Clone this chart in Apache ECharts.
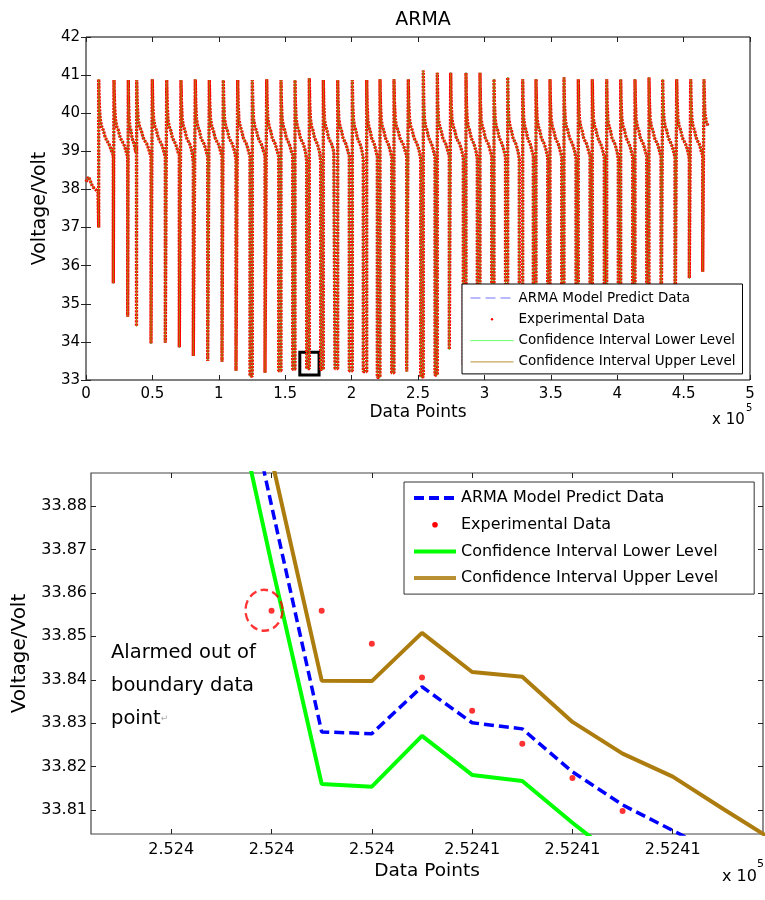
<!DOCTYPE html>
<html><head><meta charset="utf-8">
<script src="https://cdn.jsdelivr.net/npm/echarts@6/dist/echarts.min.js"></script>
<style>html,body{margin:0;padding:0;background:#fff}#c{width:765px;height:900px}</style>
</head><body><div id="c"></div>
<script>
// ================= DATA =================
// Top panel: x in units of 1e5 data points, y in Volt
const startX = [0, 0.02, 0.05, 0.09];
const startV = [38.2, 38.33, 38.07, 37.94];

// x where each discharge drop happens
const cycleDropX = [0.0956,0.2056,0.3140,0.3803,0.4895,0.5971,0.7026,0.8080,0.9164,1.0241,
  1.1295,1.2349,1.3479,1.4511,1.5565,1.6619,1.7673,1.8750,1.9827,2.0881,
  2.1935,2.3020,2.4149,2.5203,2.6280,2.7357,2.8411,2.9465,3.0550,3.1589,
  3.2628,3.3682,3.4767,3.5821,3.6898,3.7952,3.9029,4.0083,4.1167,4.2221,
  4.3298,4.4352,4.5429,4.6438];
// x where each charge spike reaches its peak
const cyclePeakX = [0.0956,0.2108,0.3185,0.3818,0.4992,0.6077,0.7154,0.8230,0.9285,1.0339,
  1.1423,1.2523,1.3607,1.4684,1.5738,1.6815,1.7869,1.8953,2.0053,2.1137,
  2.2139,2.3193,2.4270,2.5399,2.6453,2.7462,2.8614,2.9669,3.0723,3.1755,
  3.2884,3.3886,3.4940,3.5994,3.7071,3.8125,3.9209,4.0263,4.1340,4.2395,
  4.3426,4.4480,4.5535,4.6536];
// voltage just before each drop
const cyclePreDropV = [37.94,38.90,38.86,39.10,38.86,38.86,38.90,38.69,38.86,38.86,
  38.78,38.86,38.90,38.86,38.90,38.73,38.73,38.95,38.86,38.80,
  38.86,38.85,38.90,38.80,38.85,38.90,38.85,38.80,38.90,38.85,
  38.80,38.90,38.85,38.85,38.80,38.90,38.85,38.80,38.85,38.90,
  38.85,38.85,38.80,38.90];
// minimum voltage of each discharge
const cycleMinV = [37.00,35.54,34.66,34.41,33.96,33.98,33.86,33.63,33.50,33.48,
  33.24,33.10,33.19,33.24,33.28,33.30,33.28,33.30,33.24,33.22,
  33.07,33.19,33.22,33.08,33.13,33.80,33.40,33.30,33.35,33.30,
  33.30,33.35,33.30,33.25,33.30,33.30,33.35,33.30,33.30,33.30,
  33.35,33.50,35.67,35.84];
// peak voltage of each charge spike
const cyclePeakV = [40.89,40.87,40.87,40.87,40.89,40.87,40.87,40.89,40.87,40.87,
  40.87,40.87,40.89,40.87,40.87,40.92,40.87,40.87,40.87,40.87,
  40.89,40.89,40.89,41.12,41.06,41.06,41.06,41.06,40.89,40.94,
  40.89,40.89,40.89,40.94,40.89,40.89,40.89,40.89,40.89,40.94,
  40.89,40.89,40.89,40.89];
// typical relaxation after a peak (fraction of the way to next drop, voltage)
const decayFrac = [0.04, 0.10, 0.20, 0.32, 0.45, 0.58, 0.70, 0.80, 0.90];
const decayV    = [40.25, 39.85, 39.65, 39.55, 39.36, 39.27, 39.20, 39.10, 38.98];
// end of the record after the last peak
const tailX = [4.660, 4.672, 4.684];
const tailV = [40.00, 39.75, 39.68];
// black box that marks the zoomed region
const zoomBoxCorners = [[1.61, 33.73], [1.755, 33.13]];

// Bottom panel: data point index
const zoomIndex   = [252401, 252402, 252403, 252404, 252405, 252406, 252407, 252408, 252409, 252410, 252411, 252412];
const predictV    = [33.9331, 33.8801, 33.8280, 33.8276, 33.8384, 33.8301, 33.8287, 33.8188, 33.8112, 33.8053, 33.7995, 33.7940];
const lowerV      = [33.9193, 33.8667, 33.8160, 33.8154, 33.8271, 33.8181, 33.8167, 33.8071, 33.7980, 33.7900, 33.7850, 33.7800];
const upperV      = [33.9450, 33.8909, 33.8398, 33.8397, 33.8508, 33.8418, 33.8407, 33.8303, 33.8230, 33.8177, 33.8103, 33.8031];
const expIndex    = [252402, 252403, 252404, 252405, 252406, 252407, 252408, 252409];
const expV        = [33.8559, 33.8559, 33.8483, 33.8405, 33.8329, 33.8253, 33.8174, 33.8098];
const alarmPoint  = [[252401.85, 33.8560]];

// Axis ticks
const topXTicks = {min: 0, max: 5, interval: 0.5};
const topYTicks = {min: 33, max: 42, interval: 1};
const botXRange = [252398.4, 252411.8];
const botXTicks = [252400, 252402, 252404, 252406, 252408, 252410];
const botYRange = [33.8045, 33.8876];
const botYTicks = [33.81, 33.82, 33.83, 33.84, 33.85, 33.86, 33.87, 33.88];

const names = ['ARMA Model Predict Data', 'Experimental Data', 'Confidence Interval Lower Level', 'Confidence Interval Upper Level'];

// ================= build =================
function buildTop() {
  const pts = [];
  for (let k = 0; k < startX.length; k++) pts.push([startX[k], startV[k]]);
  const n = cycleDropX.length;
  for (let i = 0; i < n; i++) {
    pts.push([cycleDropX[i], cyclePreDropV[i]]);
    pts.push([cycleDropX[i], cycleMinV[i]]);
    pts.push([cyclePeakX[i], cycleMinV[i]]);
    pts.push([cyclePeakX[i], cyclePeakV[i]]);
    if (i < n - 1) {
      const span = cycleDropX[i + 1] - cyclePeakX[i];
      for (let k = 0; k < decayFrac.length; k++) pts.push([cyclePeakX[i] + decayFrac[k] * span, decayV[k]]);
    }
  }
  for (let k = 0; k < tailX.length; k++) pts.push([tailX[k], tailV[k]]);
  return pts;
}
const topPts = buildTop();
const zip = (xs, ys) => xs.map((x, i) => [x, ys[i]]);

const FONT = 'DejaVu Sans';
const BLUE = '#0000ff', GREEN = '#00ff00', BROWN = '#ad7c0e', RED = '#ff0000';

const dotTop = 'path://M0,0M43,12M20.3,6A1.2,1.2,0,1,0,22.7,6A1.2,1.2,0,1,0,20.3,6Z';
const dotBot = 'path://M0,0M42,14M18.2,7A2.8,2.8,0,1,0,23.8,7A2.8,2.8,0,1,0,18.2,7Z';

function legendData(w, dot) {
  return [
    {name: names[0], itemStyle: {opacity: 0}, lineStyle: {color: BLUE, width: w, type: [10, 5], opacity: w > 2 ? 1 : 0.55}},
    {name: names[1], icon: dot, itemStyle: {color: RED, borderWidth: 0, opacity: 1}},
    {name: names[2], itemStyle: {opacity: 0}, lineStyle: {color: GREEN, width: w, type: 'solid', opacity: w > 2 ? 1 : 0.6}},
    {name: names[3], itemStyle: {opacity: 0}, lineStyle: {color: BROWN, width: w, type: 'solid'}}
  ];
}

const tickStyle = {show: true, inside: true, length: 5, lineStyle: {color: '#222'}};
const lbl = (size, extra) => Object.assign({color: '#000', fontSize: size, fontFamily: FONT}, extra || {});

const option = {
  animation: false,
  backgroundColor: '#fff',
  title: {text: 'ARMA', left: 418, top: 6, textAlign: 'center',
    textStyle: {fontSize: 19, fontWeight: 'normal', fontFamily: FONT, color: '#000'}},
  grid: [
    {left: 86, top: 37, right: 15, bottom: 520, show: true, borderColor: '#000', borderWidth: 1, backgroundColor: '#fff'},
    {left: 91, top: 473, right: 2, bottom: 66, show: true, borderColor: '#444', borderWidth: 1.2, backgroundColor: '#fff'}
  ],
  legend: [
    {left: 462, top: 284, z: 50, orient: 'vertical', selectedMode: false, backgroundColor: '#fff',
      borderColor: '#000', borderWidth: 1, borderRadius: 0, padding: [6, 7, 4, 8], itemGap: 5.3,
      itemWidth: 43, itemHeight: 12,
      textStyle: {fontFamily: FONT, fontSize: 13.5, color: '#000', lineHeight: 16},
      data: legendData(1, dotTop)},
    {left: 404, top: 482, z: 50, orient: 'vertical', selectedMode: false, backgroundColor: '#fff',
      borderColor: '#333', borderWidth: 1, borderRadius: 0, padding: [6, 36, 6, 8], itemGap: 6.7,
      itemWidth: 42, itemHeight: 14,
      textStyle: {fontFamily: FONT, fontSize: 16, color: '#000', lineHeight: 20},
      data: legendData(4, dotBot)}
  ],
  xAxis: [
    {gridIndex: 0, type: 'value', position: 'bottom', min: topXTicks.min, max: topXTicks.max, interval: topXTicks.interval,
      axisLine: {show: false}, axisTick: tickStyle, splitLine: {show: false},
      axisLabel: lbl(15, {margin: 7}),
      name: 'Data Points', nameLocation: 'middle', nameGap: 24, nameTextStyle: lbl(17)},
    {gridIndex: 0, type: 'value', position: 'top', min: topXTicks.min, max: topXTicks.max, interval: topXTicks.interval,
      axisLine: {show: false}, axisTick: tickStyle, splitLine: {show: false}, axisLabel: {show: false}},
    {gridIndex: 1, type: 'value', position: 'bottom', min: botXRange[0], max: botXRange[1],
      axisLine: {show: false}, splitLine: {show: false},
      axisTick: Object.assign({}, tickStyle, {customValues: botXTicks}),
      axisLabel: lbl(16, {margin: 8, customValues: botXTicks,
        formatter: v => (v / 1e5).toFixed(4).replace(/0+$/, '')}),
      name: 'Data Points', nameLocation: 'middle', nameGap: 28, nameTextStyle: lbl(18.5)},
    {gridIndex: 1, type: 'value', position: 'top', min: botXRange[0], max: botXRange[1],
      axisLine: {show: false}, splitLine: {show: false},
      axisTick: Object.assign({}, tickStyle, {customValues: botXTicks}),
      axisLabel: {show: false}}
  ],
  yAxis: [
    {gridIndex: 0, type: 'value', position: 'left', min: topYTicks.min, max: topYTicks.max, interval: topYTicks.interval,
      axisLine: {show: false}, axisTick: tickStyle, splitLine: {show: false},
      axisLabel: lbl(15, {margin: 6}),
      name: 'Voltage/Volt', nameLocation: 'middle', nameGap: 33, nameTextStyle: lbl(19)},
    {gridIndex: 0, type: 'value', position: 'right', min: topYTicks.min, max: topYTicks.max, interval: topYTicks.interval,
      axisLine: {show: false}, axisTick: tickStyle, splitLine: {show: false}, axisLabel: {show: false}},
    {gridIndex: 1, type: 'value', position: 'left', min: botYRange[0], max: botYRange[1],
      axisLine: {show: false}, splitLine: {show: false},
      axisTick: Object.assign({}, tickStyle, {customValues: botYTicks}),
      axisLabel: lbl(16, {margin: 4, customValues: botYTicks, formatter: v => v.toFixed(2)}),
      name: 'Voltage/Volt', nameLocation: 'middle', nameGap: 60, nameTextStyle: lbl(20)},
    {gridIndex: 1, type: 'value', position: 'right', min: botYRange[0], max: botYRange[1],
      axisLine: {show: false}, splitLine: {show: false},
      axisTick: Object.assign({}, tickStyle, {customValues: botYTicks}),
      axisLabel: {show: false}}
  ],
  series: [
    {name: names[0], type: 'line', xAxisIndex: 0, yAxisIndex: 0, data: topPts, symbol: 'none', z: 2,
      lineStyle: {color: BLUE, width: 1, type: [6, 4]}, itemStyle: {color: BLUE}},
    {name: names[1], type: 'line', xAxisIndex: 0, yAxisIndex: 0, data: topPts, symbol: 'none', z: 4,
      lineStyle: {color: RED, width: 3.3, type: [2.2, 1.1]}, itemStyle: {color: RED},
      markArea: {silent: true, label: {show: false},
        itemStyle: {color: 'rgba(0,0,0,0)', borderColor: '#000', borderWidth: 3},
        data: [[{coord: zoomBoxCorners[0]}, {coord: zoomBoxCorners[1]}]]}},
    {name: names[2], type: 'line', xAxisIndex: 0, yAxisIndex: 0, data: topPts, symbol: 'none', z: 3,
      lineStyle: {color: GREEN, width: 1}, itemStyle: {color: GREEN}},
    {name: names[3], type: 'line', xAxisIndex: 0, yAxisIndex: 0, data: topPts, symbol: 'none', z: 5,
      lineStyle: {color: BROWN, width: 0.9, opacity: 0.85}, itemStyle: {color: BROWN}},

    {name: names[0], type: 'line', xAxisIndex: 2, yAxisIndex: 2, data: zip(zoomIndex, predictV), symbol: 'none', z: 4,
      lineStyle: {color: BLUE, width: 3.5, type: [10, 5]}, itemStyle: {color: BLUE}},
    {name: names[1], type: 'scatter', xAxisIndex: 2, yAxisIndex: 2, data: zip(expIndex, expV), symbol: 'circle', symbolSize: 6, z: 6,
      itemStyle: {color: RED}},
    {name: names[2], type: 'line', xAxisIndex: 2, yAxisIndex: 2, data: zip(zoomIndex, lowerV), symbol: 'none', z: 3,
      lineStyle: {color: GREEN, width: 4}, itemStyle: {color: GREEN}},
    {name: names[3], type: 'line', xAxisIndex: 2, yAxisIndex: 2, data: zip(zoomIndex, upperV), symbol: 'none', z: 3,
      lineStyle: {color: BROWN, width: 4}, itemStyle: {color: BROWN}},
    {name: 'alarm', type: 'scatter', xAxisIndex: 2, yAxisIndex: 2, data: alarmPoint, symbol: 'circle', symbolSize: [37, 41], z: 7,
      itemStyle: {color: 'rgba(0,0,0,0)', borderColor: RED, borderWidth: 2.4, borderType: [8, 4.5]}}
  ],
  graphic: [
    {type: 'text', left: 712, top: 413, style: {text: 'x 10', font: '15px "DejaVu Sans"', fill: '#000'}},
    {type: 'text', left: 746, top: 403, style: {text: '5', font: '10px "DejaVu Sans"', fill: '#000'}},
    {type: 'text', left: 722, top: 869, style: {text: 'x 10', font: '16px "DejaVu Sans"', fill: '#000'}},
    {type: 'text', left: 757, top: 859, style: {text: '5', font: '11px "DejaVu Sans"', fill: '#000'}},
    {type: 'text', left: 111, top: 636, z: 100,
      style: {text: 'Alarmed out of\nboundary data\npoint{r|↵}', font: '19.5px "DejaVu Sans"', lineHeight: 33, fill: '#000',
        rich: {r: {fontSize: 9, fill: '#aaa', fontFamily: FONT}}}}
  ]
};

const chart = echarts.init(document.getElementById('c'), null, {renderer: 'canvas', width: 765, height: 900});
chart.setOption(option);
</script></body></html>
